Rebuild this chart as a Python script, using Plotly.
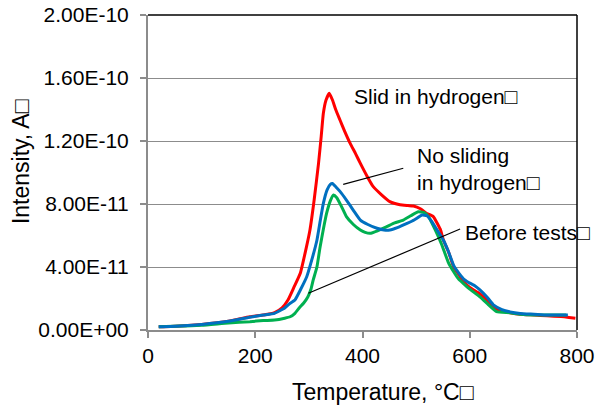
import plotly.graph_objects as go

# ---- data (temperature in °C, intensity in units of 1e-11 A) ----
red_T = [20, 60, 100, 150, 190, 215, 236, 250, 261, 272, 284, 295, 302, 310, 318, 323, 327, 332, 338,
         344, 350, 358, 367, 377, 387, 396, 408, 420, 435, 451, 470, 485, 495, 508, 520, 532, 545, 551,
         560, 570, 580, 588, 600, 619, 635, 650, 675, 694, 720, 744, 770, 785, 797]
red_I = [0.2, 0.25, 0.35, 0.55, 0.84, 0.95, 1.1, 1.4, 1.9, 2.7, 3.6, 5.2, 6.35, 8.3, 10.58, 12.3, 13.76,
         14.6, 15.03, 14.6, 14.0, 13.33, 12.6, 11.85, 11.2, 10.58, 9.8, 9.1, 8.6, 8.15, 7.95, 7.9, 7.87,
         7.7, 7.4, 7.2, 6.4, 5.7, 5.0, 4.0, 3.5, 3.1, 2.7, 2.3, 1.8, 1.3, 1.1, 1.0, 0.95, 0.9, 0.85, 0.8, 0.75]

blue_T = [20, 60, 100, 150, 187, 215, 236, 255, 265, 274, 285, 296, 305, 315, 321, 327, 334, 340, 344,
          350, 358, 370, 383, 396, 410, 427, 440, 451, 465, 483, 497, 511, 520, 529, 540, 551, 560, 570,
          580, 590, 601, 610, 619, 632, 644, 660, 675, 694, 720, 744, 765, 783]
blue_I = [0.2, 0.25, 0.35, 0.55, 0.79, 0.95, 1.06, 1.4, 1.7, 1.9, 2.6, 3.38, 4.4, 5.7, 6.9, 8.04, 8.9,
          9.25, 9.3, 9.1, 8.8, 8.25, 7.6, 6.98, 6.7, 6.46, 6.35, 6.35, 6.5, 6.77, 7.0, 7.3, 7.25, 6.9,
          6.3, 5.7, 5.0, 4.1, 3.6, 3.2, 2.96, 2.8, 2.55, 2.1, 1.6, 1.3, 1.15, 1.05, 1.0, 0.95, 0.95, 0.95]

green_T = [20, 60, 100, 150, 190, 215, 236, 255, 265, 274, 282, 290, 298, 304, 308, 315, 321, 327, 333,
           340, 346, 352, 360, 370, 383, 396, 405, 414, 428, 445, 460, 476, 490, 504, 515, 523, 535, 548,
           560, 570, 580, 590, 600, 619, 635, 650, 675, 694, 720, 744, 765, 780]
green_I = [0.2, 0.25, 0.3, 0.45, 0.53, 0.6, 0.63, 0.75, 0.84, 1.06, 1.4, 1.7, 2.1, 2.6, 3.17, 4.0, 5.29,
           6.4, 7.4, 8.2, 8.57, 8.4, 7.9, 7.2, 6.7, 6.35, 6.2, 6.14, 6.3, 6.56, 6.8, 6.98, 7.25, 7.51,
           7.45, 7.2, 6.4, 5.4, 4.3, 3.7, 3.2, 2.9, 2.6, 2.1, 1.6, 1.16, 1.1, 1.0, 0.95, 0.95, 0.95, 0.95]

SCALE = 1e-11

x_tickvals = [0, 200, 400, 600, 800]
y_tickvals = [0, 4e-11, 8e-11, 1.2e-10, 1.6e-10, 2e-10]
y_ticktext = ["0.00E+00", "4.00E-11", "8.00E-11", "1.20E-10", "1.60E-10", "2.00E-10"]

labels = ["Slid in hydrogen□", "No sliding<br>in hydrogen□", "Before tests□"]
label_x = [381, 497, 587]
label_y = [1.48e-10, 1.02e-10, 6.22e-11]
leader_from = [None, (476, 1.027e-10), (582, 6.41e-11)]
leader_to = [None, (364, 9.25e-11), (299, 2.33e-11)]

FONT = "Liberation Sans, Arial, DejaVu Sans, sans-serif"

fig = go.Figure()
series = [(red_T, red_I, "#FF0000"), (green_T, green_I, "#00B050"), (blue_T, blue_I, "#0070C0")]
for T, I, col in series:
    fig.add_trace(go.Scatter(x=T, y=[v * SCALE for v in I], mode="lines",
                             line=dict(color=col, width=3, shape="spline", smoothing=0.4),
                             showlegend=False, hoverinfo="skip"))

for i, txt in enumerate(labels):
    fig.add_annotation(x=label_x[i], y=label_y[i], text=txt, showarrow=False, xanchor="left",
                       yanchor="middle", align="left", font=dict(family=FONT, size=21, color="black"))
    if leader_from[i] is not None:
        fig.add_shape(type="line", x0=leader_from[i][0], y0=leader_from[i][1],
                      x1=leader_to[i][0], y1=leader_to[i][1], line=dict(color="black", width=1.2))

# frame: top and right borders in black
fig.add_shape(type="line", xref="paper", yref="paper", x0=0, y0=1, x1=1, y1=1, line=dict(color="black", width=1.5))
fig.add_shape(type="line", xref="paper", yref="paper", x0=1, y0=0, x1=1, y1=1, line=dict(color="black", width=1.5))

# axis titles
fig.add_annotation(xref="paper", yref="paper", x=0.548, y=-0.197, text="Temperature, °C□", showarrow=False,
                   xanchor="center", yanchor="middle", font=dict(family=FONT, size=23, color="black"))
fig.add_annotation(xref="paper", yref="paper", x=-0.296, y=0.533, text="Intensity, A□", showarrow=False,
                   textangle=-90, xanchor="center", yanchor="middle", font=dict(family=FONT, size=23, color="black"))

fig.update_layout(
    width=595, height=409,
    margin=dict(l=148, r=18, t=15, b=79),
    paper_bgcolor="white", plot_bgcolor="white",
    font=dict(family=FONT, size=21, color="black"),
    xaxis=dict(range=[0, 800], tickvals=x_tickvals, showgrid=False, zeroline=False,
               showline=True, linecolor="#8c8c8c", linewidth=2, ticks="outside", ticklen=6,
               tickcolor="#8c8c8c", tickwidth=1.5, tickfont=dict(size=21), automargin=False),
    yaxis=dict(range=[0, 2e-10], tickvals=y_tickvals, ticktext=y_ticktext, showgrid=True,
               gridcolor="#8c8c8c", gridwidth=1.3, zeroline=False, showline=True, linecolor="#8c8c8c",
               linewidth=2, ticks="outside", ticklen=6, tickcolor="#8c8c8c", tickwidth=1.5,
               tickfont=dict(size=21), ticklabelstandoff=7, automargin=False),
)

fig.write_html("out.html", config={"displayModeBar": False},
               post_script="document.body.style.margin='0px';document.body.style.overflow='hidden';")
